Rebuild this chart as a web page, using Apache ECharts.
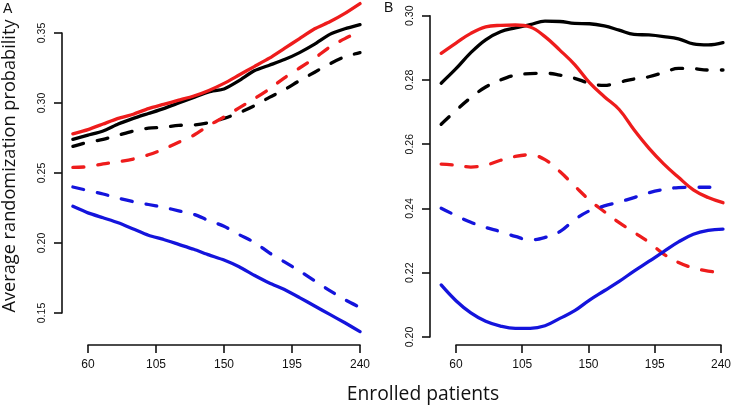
<!DOCTYPE html>
<html>
<head>
<meta charset="utf-8">
<script src="https://cdn.jsdelivr.net/npm/echarts@6/dist/echarts.min.js"></script>
<style>html,body{margin:0;padding:0;background:#fff}#c{width:734px;height:406px}</style>
</head>
<body>
<div id="c"></div>
<script>
// ---- data ----
const xTicks = [60, 105, 150, 195, 240];
const yTicksA = [0.15, 0.20, 0.25, 0.30, 0.35];
const yTicksB = [0.20, 0.22, 0.24, 0.26, 0.28, 0.30];
const patientsA = [50,60,70,80,90,100,110,120,130,140,150,160,170,180,190,200,210,220,230,240];
const patientsB = [50,60,70,80,90,100,110,120,130,140,150,160,170,180,190,200,210,220,230,240];

const aRedSolid   = [0.278,0.281,0.285,0.289,0.292,0.296,0.299,0.302,0.305,0.309,0.314,0.320,0.326,0.332,0.339,0.346,0.353,0.358,0.364,0.371];
const aBlackSolid = [0.274,0.277,0.280,0.285,0.289,0.2925,0.296,0.300,0.304,0.308,0.310,0.316,0.323,0.327,0.331,0.336,0.342,0.349,0.353,0.356];
const aBlackDash  = [0.269,0.272,0.274,0.277,0.280,0.282,0.2826,0.284,0.2843,0.286,0.289,0.293,0.298,0.304,0.3095,0.316,0.322,0.328,0.333,0.336];
const aRedDash    = [0.254,0.2545,0.2565,0.258,0.260,0.263,0.267,0.272,0.277,0.284,0.290,0.2965,0.303,0.310,0.318,0.325,0.332,0.340,0.346,0.351];
const aBlueDash   = [0.240,0.2375,0.235,0.232,0.2295,0.2275,0.2255,0.223,0.2205,0.216,0.212,0.206,0.2005,0.193,0.1865,0.180,0.173,0.166,0.1595,0.154];
const aBlueSolid  = [0.2262,0.2215,0.218,0.2145,0.210,0.2055,0.2025,0.199,0.1955,0.1915,0.1878,0.183,0.177,0.1715,0.1668,0.161,0.155,0.149,0.143,0.1367];

const bRedSolid   = [0.2883,0.2915,0.2945,0.2965,0.297,0.2971,0.2965,0.2935,0.2893,0.2848,0.2792,0.2748,0.2708,0.2645,0.2588,0.2539,0.2497,0.2458,0.2434,0.2418];
const bBlackSolid = [0.279,0.2835,0.2885,0.2925,0.295,0.2962,0.2972,0.2983,0.2982,0.2976,0.2975,0.2968,0.2955,0.2942,0.294,0.2935,0.2928,0.2912,0.2909,0.2916];
const bBlackDash  = [0.2662,0.2705,0.2745,0.2778,0.280,0.2815,0.282,0.2821,0.2815,0.2805,0.279,0.2783,0.2793,0.2803,0.281,0.2823,0.2836,0.2835,0.2831,0.2831];
const bRedDash    = [0.2538,0.2535,0.2529,0.2535,0.255,0.2562,0.2567,0.2552,0.2515,0.247,0.2426,0.239,0.2356,0.2326,0.2295,0.2258,0.2232,0.2215,0.2205,0.2200];
const bBlueDash   = [0.2401,0.2378,0.2357,0.2341,0.2328,0.2313,0.2302,0.231,0.2328,0.2365,0.2393,0.2408,0.242,0.2434,0.2449,0.2459,0.2465,0.2466,0.2466,0.2466];
const bBlueSolid  = [0.2162,0.2113,0.2075,0.2049,0.2034,0.2027,0.2027,0.2035,0.2058,0.2082,0.2115,0.2144,0.2173,0.2205,0.2235,0.2266,0.2296,0.232,0.2332,0.2336];

const xTitle = 'Enrolled patients';
const yTitle = 'Average randomization probability';

// ---- layout ----
const RED = '#ee1c1c', BLUE = '#1414dc', BLACK = '#000000';
const DASH = [11, 14];
const X_LO = 45; // data-area left limit (axis units), axes drawn only over tick range
const panels = [
  {left: 88, top: 33, width: 272, height: 280, xOff: 32, yTicks: yTicksA},
  {left: 456, top: 15.7, width: 267, height: 321.3, xOff: 8, yTicks: yTicksB}
];

const chart = echarts.init(document.getElementById('c'), null, {renderer: 'canvas'});

function zip(xs, ys) { return xs.map((x, i) => [x, ys[i]]); }
function line(name, xs, ys, color, dashed, ai, smooth) {
  return {
    name, type: 'line', xAxisIndex: ai, yAxisIndex: ai,
    data: zip(xs, ys), showSymbol: false, smooth: smooth, clip: false,
    lineStyle: {color, width: 3.3, type: dashed ? DASH : 'solid', cap: 'round', join: 'round'},
    emphasis: {disabled: true}, z: 3
  };
}
const axisLineStyle = {show: true, lineStyle: {color: '#111', width: 1.6}};
const tickStyle = {show: true, length: 8, lineStyle: {color: '#111', width: 1.6}};
const xMin = xTicks[0], xMax = xTicks[xTicks.length - 1];

const grids = [], xAxes = [], yAxes = [];
panels.forEach((p, i) => {
  // visible R-style axes grid (spans tick range only)
  grids.push({left: p.left, top: p.top, width: p.width, height: p.height});
  xAxes.push({
    type: 'value', gridIndex: grids.length - 1, min: xMin, max: xMax,
    interval: xTicks[1] - xTicks[0], offset: p.xOff,
    axisLine: axisLineStyle, axisTick: tickStyle, splitLine: {show: false},
    axisLabel: {fontFamily: 'Liberation Sans', fontSize: 12, color: '#111', margin: 14}
  });
  const yt = p.yTicks;
  yAxes.push({
    type: 'value', gridIndex: grids.length - 1, min: yt[0], max: yt[yt.length - 1],
    interval: +(yt[1] - yt[0]).toFixed(4), offset: 26,
    axisLine: axisLineStyle, axisTick: tickStyle, splitLine: {show: false},
    axisLabel: {fontFamily: 'Liberation Sans', fontSize: 10.5, color: '#111', rotate: 90,
      margin: 14, align: 'center', verticalAlign: 'bottom', formatter: v => v.toFixed(2)}
  });
  // hidden data grid, same scale but extended to the left
  const pxPerUnit = p.width / (xMax - xMin);
  const extra = (xMin - X_LO) * pxPerUnit;
  grids.push({left: p.left - extra, top: p.top, width: p.width + extra, height: p.height});
  xAxes.push({type: 'value', gridIndex: grids.length - 1, min: X_LO, max: xMax, show: false, splitLine: {show: false}});
  yAxes.push({type: 'value', gridIndex: grids.length - 1, min: yt[0], max: yt[yt.length - 1], show: false, splitLine: {show: false}});
});

chart.setOption({
  animation: false,
  backgroundColor: '#fff',
  grid: grids,
  xAxis: xAxes,
  yAxis: yAxes,
  series: [
    line('A black dashed', patientsA, aBlackDash, BLACK, true, 1, 0.3),
    line('A red dashed', patientsA, aRedDash, RED, true, 1, 0.3),
    line('A blue dashed', patientsA, aBlueDash, BLUE, true, 1, 0.3),
    line('A black solid', patientsA, aBlackSolid, BLACK, false, 1, 0.2),
    line('A red solid', patientsA, aRedSolid, RED, false, 1, 0.2),
    line('A blue solid', patientsA, aBlueSolid, BLUE, false, 1, 0.2),
    line('B black dashed', patientsB, bBlackDash, BLACK, true, 3, 0.4),
    line('B red dashed', patientsB, bRedDash, RED, true, 3, 0.4),
    line('B blue dashed', patientsB, bBlueDash, BLUE, true, 3, 0.4),
    line('B black solid', patientsB, bBlackSolid, BLACK, false, 3, 0.4),
    line('B red solid', patientsB, bRedSolid, RED, false, 3, 0.4),
    line('B blue solid', patientsB, bBlueSolid, BLUE, false, 3, 0.4)
  ],
  graphic: [
    {type: 'text', left: 3, top: 2, style: {text: 'A', font: '14px "Liberation Sans"', fill: '#111'}},
    {type: 'text', left: 384, top: 1, style: {text: 'B', font: '14px "Liberation Sans"', fill: '#111'}},
    {type: 'text', x: 10, y: 166, rotation: Math.PI / 2,
      style: {text: yTitle, font: '18.2px "Open Sans"', fill: '#111', align: 'center', verticalAlign: 'middle'}},
    {type: 'text', x: 423, y: 395,
      style: {text: xTitle, font: '19.3px "Open Sans"', fill: '#111', align: 'center', verticalAlign: 'middle'}}
  ]
});
</script>
</body>
</html>
